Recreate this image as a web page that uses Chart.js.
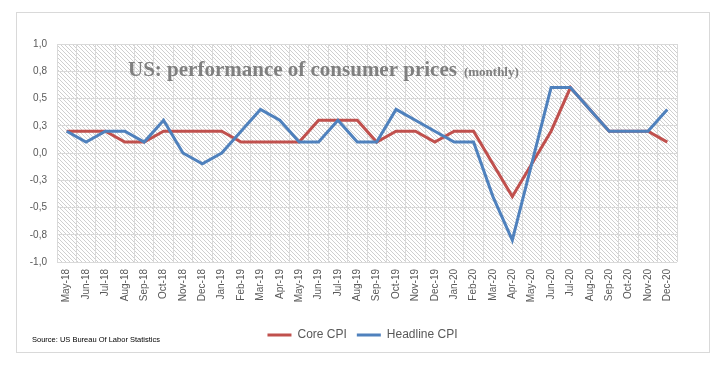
<!DOCTYPE html>
<html>
<head>
<meta charset="utf-8">
<script src="https://cdn.jsdelivr.net/npm/chart.js@4/dist/chart.umd.min.js"></script>
<style>
  html, body { margin: 0; padding: 0; background: #fff; }
  #wrap { width: 726px; height: 369px; position: relative; }
</style>
</head>
<body>
<div id="wrap"><canvas id="c" width="726" height="369"></canvas></div>
<script>
const categories = ['May-18','Jun-18','Jul-18','Aug-18','Sep-18','Oct-18','Nov-18','Dec-18',
  'Jan-19','Feb-19','Mar-19','Apr-19','May-19','Jun-19','Jul-19','Aug-19','Sep-19','Oct-19','Nov-19','Dec-19',
  'Jan-20','Feb-20','Mar-20','Apr-20','May-20','Jun-20','Jul-20','Aug-20','Sep-20','Oct-20','Nov-20','Dec-20'];
const coreCPI = [0.2,0.2,0.2,0.1,0.1,0.2,0.2,0.2,
  0.2,0.1,0.1,0.1,0.1,0.3,0.3,0.3,0.1,0.2,0.2,0.1,
  0.2,0.2,-0.1,-0.4,-0.1,0.2,0.6,0.4,0.2,0.2,0.2,0.1];
const headlineCPI = [0.2,0.1,0.2,0.2,0.1,0.3,0.0,-0.1,
  0.0,0.2,0.4,0.3,0.1,0.1,0.3,0.1,0.1,0.4,0.3,0.2,
  0.1,0.1,-0.4,-0.8,-0.1,0.6,0.6,0.4,0.2,0.2,0.2,0.4];
const yTickLabels = ['-1,0','-0,8','-0,5','-0,3','0,0','0,3','0,5','0,8','1,0'];
const titleText = 'US: performance of consumer prices';
const subtitleText = '(monthly)';
const sourceText = 'Source: US Bureau Of Labor Statistics';

function makeHatch() {
  const p = document.createElement('canvas');
  p.width = 4; p.height = 4;
  const g = p.getContext('2d');
  g.fillStyle = '#fff';
  g.fillRect(0, 0, 4, 4);
  g.fillStyle = '#cfcfcf';
  for (let i = 0; i < 4; i++) g.fillRect(i, i, 1, 1);
  return p;
}

const decorPlugin = {
  id: 'decor',
  beforeDraw(chart) {
    const ctx = chart.ctx;
    const a = chart.chartArea;
    ctx.save();
    ctx.fillStyle = '#fff';
    ctx.fillRect(0, 0, chart.width, chart.height);
    ctx.strokeStyle = '#d9d9d9';
    ctx.lineWidth = 1;
    ctx.strokeRect(16.5, 12.5, 693, 340);
    const pat = ctx.createPattern(makeHatch(), 'repeat');
    ctx.fillStyle = pat;
    ctx.fillRect(a.left, a.top, a.right - a.left, a.bottom - a.top);
    ctx.restore();
  },
  afterDraw(chart) {
    const ctx = chart.ctx;
    ctx.save();
    ctx.fillStyle = '#7f7f7f';
    ctx.textBaseline = 'alphabetic';
    ctx.font = 'bold 21px "Liberation Serif"';
    ctx.fillText(titleText, 128, 76);
    const w = ctx.measureText(titleText).width;
    ctx.font = 'bold 13px "Liberation Serif"';
    ctx.fillText(subtitleText, 128 + w + 7, 76);
    ctx.fillStyle = '#000';
    ctx.font = '7.5px "Liberation Sans"';
    ctx.textBaseline = 'middle';
    ctx.fillText(sourceText, 32, 340);
    ctx.restore();
  }
};

new Chart(document.getElementById('c'), {
  type: 'line',
  data: {
    labels: categories,
    datasets: [
      { label: 'Core CPI', data: coreCPI, borderColor: '#C0504D', backgroundColor: '#C0504D',
        borderWidth: 3, pointRadius: 0, tension: 0, order: 2, yAxisID: 'y' },
      { label: 'Headline CPI', data: headlineCPI, borderColor: '#4F81BD', backgroundColor: '#4F81BD',
        borderWidth: 3, pointRadius: 0, tension: 0, order: 1, yAxisID: 'y' }
    ]
  },
  options: {
    responsive: false,
    animation: false,
    devicePixelRatio: 1,
    layout: { padding: { left: 16, right: 17, top: 44, bottom: 18 } },
    plugins: {
      legend: {
        position: 'bottom',
        labels: {
          usePointStyle: true,
          pointStyle: 'line',
          pointStyleWidth: 24,
          padding: 10,
          color: '#595959',
          font: { family: '"Liberation Sans"', size: 12 },
          sort: (a, b) => a.datasetIndex - b.datasetIndex
        }
      },
      tooltip: { enabled: false }
    },
    scales: {
      x: {
        type: 'category',
        offset: true,
        grid: { offset: true, color: '#d9d9d9', drawTicks: false },
        border: { display: false },
        ticks: {
          autoSkip: false, minRotation: 90, maxRotation: 90, padding: 7,
          color: '#595959', font: { family: '"Liberation Sans"', size: 10 }
        },
        afterFit(s) { s.height = 57; }
      },
      y: {
        position: 'left',
        min: -1, max: 1,
        grid: { color: '#d9d9d9', drawTicks: false },
        border: { display: false },
        ticks: {
          stepSize: 0.25, padding: 10,
          color: '#595959', font: { family: '"Liberation Sans"', size: 10 },
          callback: (v, i) => yTickLabels[i]
        },
        afterFit(s) { s.width = 41; }
      },
      y2: {
        position: 'right',
        display: true,
        grid: { display: false, drawTicks: false },
        border: { display: false },
        ticks: { display: false },
        afterFit(s) { s.width = 32; }
      }
    }
  },
  plugins: [decorPlugin]
});
</script>
</body>
</html>
